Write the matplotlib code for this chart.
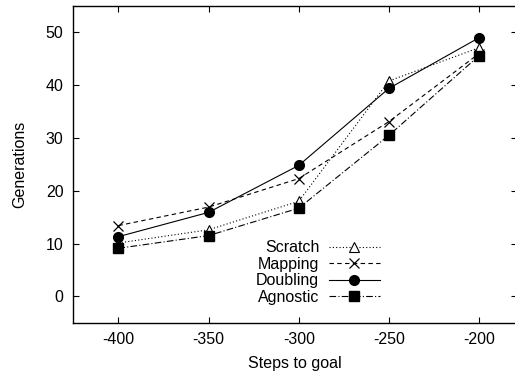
import matplotlib
matplotlib.use("Agg")
import matplotlib.pyplot as plt

plt.rcParams['font.family'] = ['Liberation Sans', 'DejaVu Sans']
plt.rcParams['axes.unicode_minus'] = False

steps = [-400, -350, -300, -250, -200]
scratch = [10.1, 12.6, 18.0, 40.8, 47.1]
mapping = [13.4, 16.9, 22.3, 33.1, 46.0]
doubling = [11.3, 15.9, 24.8, 39.4, 49.0]
agnostic = [9.1, 11.5, 16.7, 30.5, 45.6]

fig = plt.figure(figsize=(5.15, 3.74), dpi=100)
# right edge of the box sits just outside the picture, like the original
ax = fig.add_axes([73.3 / 515, 1 - 322.7 / 374, (517 - 73.3) / 515, (322.7 - 6) / 374])

ax.plot(steps, scratch, color='black', lw=0.8, ls=(0, (1, 2)), marker='^', ms=7,
        mfc='white', mec='black', mew=0.8, label='Scratch')
ax.plot(steps, mapping, color='black', lw=0.8, ls=(0, (4, 3)), marker='x', ms=7,
        mew=0.9, label='Mapping')
ax.plot(steps, doubling, color='black', lw=0.8, ls='-', marker='o', ms=7,
        label='Doubling')
ax.plot(steps, agnostic, color='black', lw=0.8, ls=(0, (6, 2, 1, 2)), marker='s', ms=6.5,
        label='Agnostic')

ax.set_xlim(-425, -179)
ax.set_ylim(-5, 55)
ax.set_xticks(steps)
ax.set_yticks([0, 10, 20, 30, 40, 50])
ax.tick_params(direction='in', top=True, right=True, labelsize=11.5, length=4, width=0.8, pad=7)
for s in ax.spines.values():
    s.set_linewidth(1.0)

ax.set_xlabel('Steps to goal', fontsize=11.5, labelpad=6)
ax.set_ylabel('Generations', fontsize=11.5, labelpad=13)

leg = ax.legend(loc='upper right', bbox_to_anchor=(0.709, 0.286), frameon=False,
                markerfirst=False, fontsize=11.5, handlelength=3.2, handletextpad=0.6,
                labelspacing=0.1, borderpad=0)
for t in leg.get_texts():
    t.set_ha('right')

fig.savefig('out.png', dpi=100)
